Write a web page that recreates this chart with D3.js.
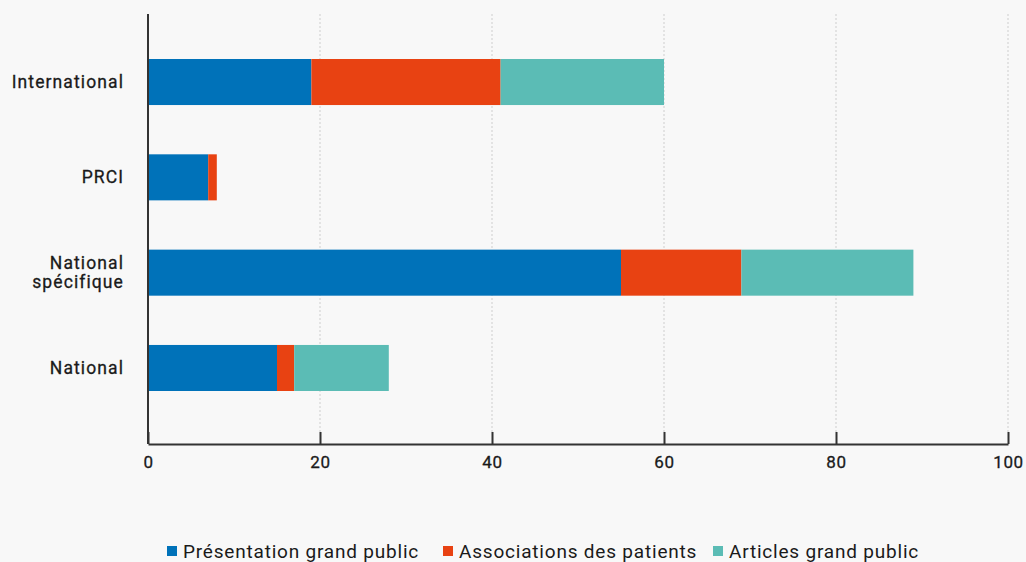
<!DOCTYPE html>
<html>
<head>
<meta charset="utf-8">
<script src="https://cdn.jsdelivr.net/npm/d3@7"></script>
<style>
  html, body { margin: 0; padding: 0; background: #f8f8f8; }
  svg { display: block; font-family: Roboto, "Noto Sans", sans-serif; }
</style>
</head>
<body>
<svg id="chart" width="1026" height="562"></svg>
<script>
// Categories, top to bottom
const categories = ["International", "PRCI", "National spécifique", "National"];
// Series values per category
const presentation = [19, 7, 55, 15];
const associations = [22, 1, 14, 2];
const articles = [19, 0, 20, 11];
const seriesNames = ["Présentation grand public", "Associations des patients", "Articles grand public"];
const seriesColors = ["#0072b9", "#e84212", "#5bbcb5"];
const xTicks = [0, 20, 40, 60, 80, 100];

const rows = categories.map((c, i) => ({
  cat: c,
  s0: presentation[i],
  s1: associations[i],
  s2: articles[i]
}));

const svg = d3.select("#chart");
const plotLeft = 148, plotRight = 1008, plotTop = 14, plotBottom = 444;

const x = d3.scaleLinear().domain([0, 100]).range([plotLeft, plotRight]);
const y = d3.scaleBand().domain(categories).range([59, 391])
  .paddingInner(0.517).paddingOuter(0);

// grid lines
svg.append("g").selectAll("line").data(xTicks.slice(1)).join("line")
  .attr("x1", d => x(d)).attr("x2", d => x(d))
  .attr("y1", plotTop).attr("y2", plotBottom - 12)
  .attr("stroke", "#dcdcdc").attr("stroke-width", 1.5)
  .attr("stroke-dasharray", "2,2");

// stacked bars
const stack = d3.stack().keys(["s0", "s1", "s2"]);
const layers = stack(rows);
svg.append("g").selectAll("g").data(layers).join("g")
  .attr("fill", (d, i) => seriesColors[i])
  .selectAll("rect").data(d => d).join("rect")
  .attr("x", d => x(d[0]))
  .attr("width", d => x(d[1]) - x(d[0]))
  .attr("y", d => y(d.data.cat))
  .attr("height", y.bandwidth());

// x axis (ticks point upward)
const xAxis = svg.append("g").attr("transform", `translate(0,${plotBottom})`)
  .call(d3.axisBottom(x).tickValues(xTicks).tickSize(-12).tickPadding(10).tickSizeOuter(0));
xAxis.select(".domain").attr("stroke", "#333").attr("stroke-width", 2);
xAxis.selectAll(".tick line").attr("stroke", "#333").attr("stroke-width", 2);
xAxis.selectAll(".tick text")
  .attr("y", 24).attr("dy", 0)
  .attr("fill", "#1a1a1a").attr("font-size", 17).attr("font-weight", 400)
  .attr("stroke", "#1a1a1a").attr("stroke-width", 0.3)
  .attr("letter-spacing", 0.6)
  .attr("font-family", "Roboto, sans-serif");

// y axis line
svg.append("line")
  .attr("x1", plotLeft).attr("x2", plotLeft).attr("y1", plotTop).attr("y2", plotBottom)
  .attr("stroke", "#333").attr("stroke-width", 2);

// category labels
const labelLines = {
  "International": ["International"],
  "PRCI": ["PRCI"],
  "National spécifique": ["National", "spécifique"],
  "National": ["National"]
};
const labels = svg.append("g").selectAll("text").data(categories).join("text")
  .attr("x", 124)
  .attr("text-anchor", "end")
  .attr("fill", "#1a1a1a").attr("font-size", 17.5).attr("font-weight", 400)
  .attr("stroke", "#1a1a1a").attr("stroke-width", 0.3)
  .attr("letter-spacing", 1.1);
labels.each(function(d) {
  const lines = labelLines[d];
  const cy = y(d) + y.bandwidth() / 2;
  const lh = 19;
  const t = d3.select(this);
  lines.forEach((ln, i) => {
    t.append("tspan")
      .attr("x", 124)
      .attr("y", cy + (i - (lines.length - 1) / 2) * lh)
      .attr("dy", "0.35em")
      .text(ln);
  });
});

// legend
const legendX = [167, 443, 713];
const lg = svg.append("g").selectAll("g").data(seriesNames).join("g")
  .attr("transform", (d, i) => `translate(${legendX[i]},551)`);
lg.append("rect").attr("x", 0).attr("y", -5).attr("width", 10).attr("height", 10)
  .attr("fill", (d, i) => seriesColors[i]);
lg.append("text").attr("x", 16).attr("dy", "0.35em")
  .attr("fill", "#1a1a1a").attr("font-size", 19)
  .attr("letter-spacing", 0.8)
  .text(d => d);
</script>
</body>
</html>
